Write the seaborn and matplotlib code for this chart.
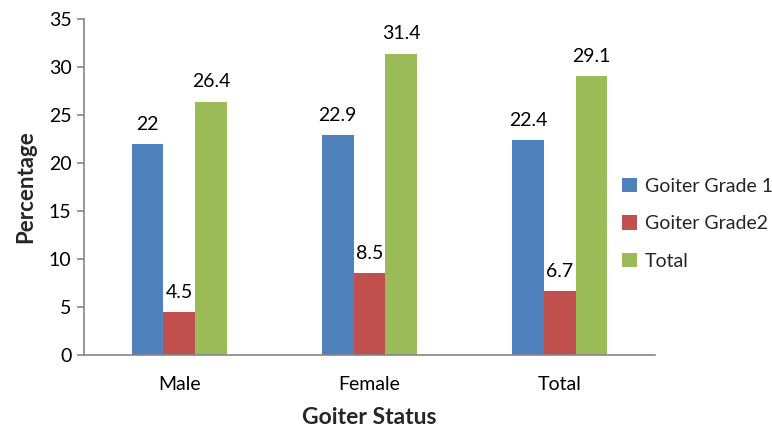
import matplotlib
matplotlib.use("Agg")
import matplotlib.pyplot as plt
import seaborn as sns
import pandas as pd

categories = ["Male", "Female", "Total"]
series_names = ["Goiter Grade 1", "Goiter Grade2", "Total"]
grade1 = [22, 22.9, 22.4]
grade2 = [4.5, 8.5, 6.7]
total = [26.4, 31.4, 29.1]
label_text = {
    "Goiter Grade 1": ["22", "22.9", "22.4"],
    "Goiter Grade2": ["4.5", "8.5", "6.7"],
    "Total": ["26.4", "31.4", "29.1"],
}
colors = ["#4F81BD", "#C0504D", "#9BBB59"]

rows = []
for name, vals in zip(series_names, [grade1, grade2, total]):
    for c, v in zip(categories, vals):
        rows.append({"Goiter Status": c, "Series": name, "Percentage": v})
df = pd.DataFrame(rows)

sns.set_theme(style="white")
plt.rcParams["font.family"] = ["Lato", "DejaVu Sans"]

fig = plt.figure(figsize=(7.72, 4.28), dpi=100)
ax = fig.add_axes([0.1088, 0.1706, 0.8484 - 0.1088, 0.9556 - 0.1706])

sns.barplot(data=df, x="Goiter Status", y="Percentage", hue="Series",
            hue_order=series_names, order=categories, palette=colors,
            width=0.5, ax=ax, errorbar=None, saturation=1, edgecolor="none")

for cont, name in zip(ax.containers, series_names):
    ax.bar_label(cont, labels=label_text[name], padding=8, fontsize=14, color="black")

ax.set_ylim(0, 35)
ax.set_yticks(range(0, 36, 5))
ax.set_xlim(-0.5, 2.5)
for s in ["top", "right"]:
    ax.spines[s].set_visible(False)
for s in ["left", "bottom"]:
    ax.spines[s].set_color("#868686")
    ax.spines[s].set_linewidth(1.2)
ax.tick_params(axis="y", which="both", left=True, length=5, width=1.2, color="#868686",
               labelsize=14, labelcolor="black", pad=4)
ax.tick_params(axis="x", bottom=False, labelsize=14, labelcolor="black", pad=9)

ax.set_xlabel("Goiter Status", fontsize=16.5, fontweight="bold", labelpad=10)
ax.set_ylabel("Percentage", fontsize=16, fontweight="bold", labelpad=9)

handles, labels = ax.get_legend_handles_labels()
ax.legend(handles, labels, loc="center left", bbox_to_anchor=(0.806, 0.477),
          bbox_transform=fig.transFigure, frameon=False, fontsize=14,
          handlelength=0.75, handleheight=0.75, handletextpad=0.4, labelspacing=1.05,
          borderaxespad=0, borderpad=0)

fig.savefig("out.png", dpi=100)
